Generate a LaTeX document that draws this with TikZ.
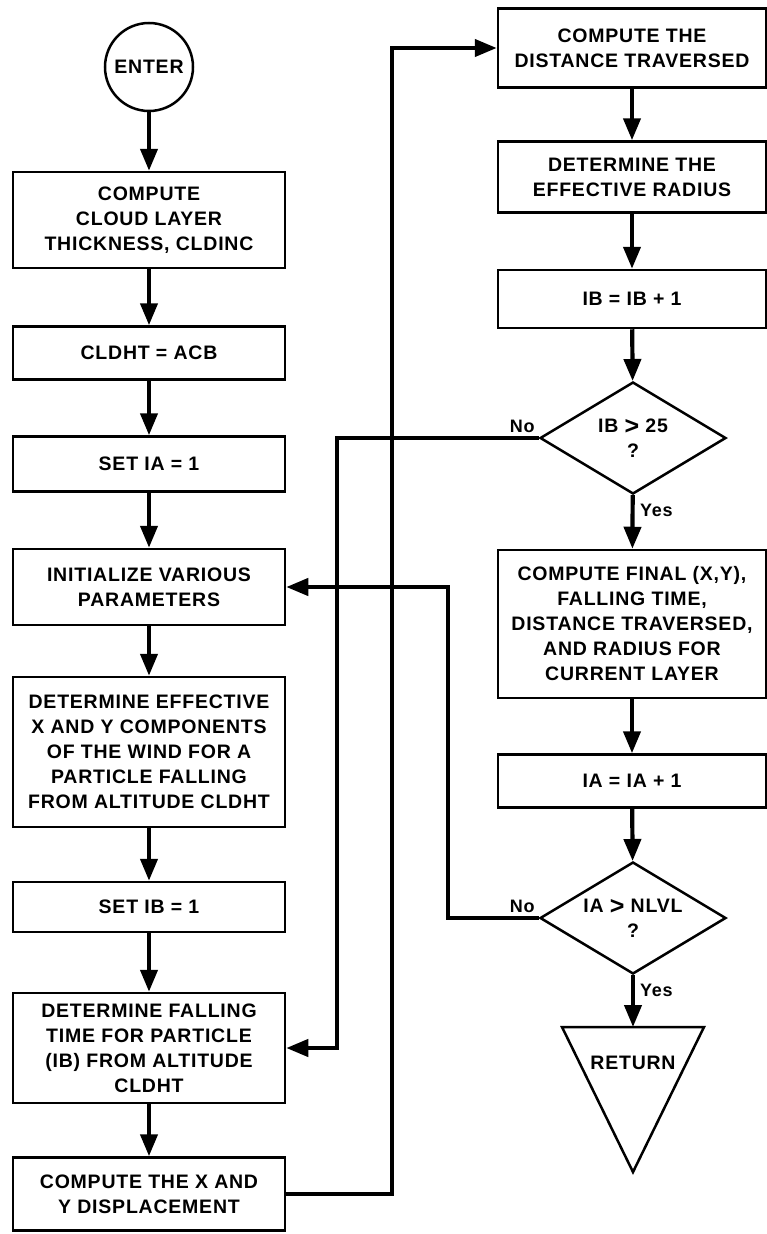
\documentclass[tikz,border=0pt]{standalone}
\usepackage{fontspec}
\setmainfont{Liberation Sans}[LetterSpace=4]
\usetikzlibrary{arrows.meta,shapes.geometric}
\newcommand{\bigGT}{\raisebox{-2.5pt}{\fontsize{25pt}{25pt}\selectfont >}}
\begin{document}
\begin{tikzpicture}[x=1pt,y=-1pt,
  every node/.style={font=\fontsize{19.5pt}{25pt}\selectfont\bfseries},
  proc/.style 2 args={draw, line width=2.5pt, rectangle, minimum width=#1,
    minimum height=#2, inner sep=0pt, align=center},
  decide/.style={draw, line width=2.5pt, diamond, aspect=1.66,
    minimum width=186pt, minimum height=112pt, inner sep=0pt, align=center},
  flow/.style={line width=4.2pt, line join=miter,
    -{Triangle[length=22pt,width=17pt]}},
  answer/.style={font=\fontsize{18pt}{20pt}\selectfont\bfseries, inner sep=1pt}
]
\useasboundingbox (0,0) rectangle (767,1234);
\fill[white] (0,0) rectangle (767,1234);

% left column
\node[circle, draw, line width=2.5pt, minimum size=88pt, inner sep=0pt] (enter) at (149,67) {ENTER};
\node[proc={272pt}{96pt}] (b1) at (149,220) {COMPUTE\\CLOUD LAYER\\THICKNESS, CLDINC};
\node[proc={272pt}{53pt}] (b2) at (149,353) {CLDHT = ACB};
\node[proc={272pt}{55pt}] (b3) at (149,464) {SET IA = 1};
\node[proc={272pt}{76pt}] (b4) at (149,587) {INITIALIZE VARIOUS\\PARAMETERS};
\node[proc={272pt}{150pt}] (b5) at (149,752) {DETERMINE EFFECTIVE\\X AND Y COMPONENTS\\OF THE WIND FOR A\\PARTICLE FALLING\\FROM ALTITUDE CLDHT};
\node[proc={272pt}{50pt}] (b6) at (149,907) {SET IB = 1};
\node[proc={272pt}{110pt}] (b7) at (149,1048) {DETERMINE FALLING\\TIME FOR PARTICLE\\(IB) FROM ALTITUDE\\CLDHT};
\node[proc={272pt}{73pt}] (b8) at (149,1194) {COMPUTE THE X AND\\Y DISPLACEMENT};

% right column
\node[proc={268pt}{79pt}] (r1) at (632,48) {COMPUTE THE\\DISTANCE TRAVERSED};
\node[proc={268pt}{71pt}] (r2) at (632,177) {DETERMINE THE\\EFFECTIVE RADIUS};
\node[proc={268pt}{58pt}] (r3) at (632,299) {IB = IB + 1};
\node[decide] (d1) at (633,438) {IB \bigGT{} 25\\?};
\node[proc={268pt}{148pt}] (r4) at (632,624) {COMPUTE FINAL (X,Y),\\FALLING TIME,\\DISTANCE TRAVERSED,\\AND RADIUS FOR\\CURRENT LAYER};
\node[proc={268pt}{53pt}] (r5) at (632,781) {IA = IA + 1};
\node[decide] (d2) at (633,918) {IA \bigGT{} NLVL\\?};

% return triangle
\coordinate (rtop) at (633,1027);
\draw[line width=2.5pt, line join=miter] (562,1027) -- (704,1027) -- (633,1172) -- cycle;
\node (ret) at (633,1063) {RETURN};

% loop columns
\coordinate (colA) at (337,0);
\coordinate (colB) at (392,0);
\coordinate (colC) at (448,0);

% main flow
\draw[flow] (enter) -- (b1);
\draw[flow] (b1) -- (b2);
\draw[flow] (b2) -- (b3);
\draw[flow] (b3) -- (b4);
\draw[flow] (b4) -- (b5);
\draw[flow] (b5) -- (b6);
\draw[flow] (b6) -- (b7);
\draw[flow] (b7) -- (b8);
\draw[flow] (r1) -- (r2);
\draw[flow] (r2) -- (r3);
\draw[flow] (r3) -- (d1);
\draw[flow] (d1) -- (r4);
\draw[flow] (r4) -- (r5);
\draw[flow] (r5) -- (d2);
\draw[flow] (d2.south) -- (rtop);

% loops back
\draw[flow] (b8.east) -- (b8.east -| colB) -- (r1.west -| colB) -- (r1.west);
\draw[flow] (d1.west) -- (d1.west -| colA) -- (b7.east -| colA) -- (b7.east);
\draw[flow] (d2.west) -- (d2.west -| colC) -- (b4.east -| colC) -- (b4.east);

% branch labels
\node[answer, anchor=south east] (no1) at ([xshift=-3pt,yshift=4pt]d1.west) {No};
\node[answer, anchor=north west] (yes1) at ([xshift=6pt,yshift=-8pt]d1.south) {Yes};
\node[answer, anchor=south east] (no2) at ([xshift=-3pt,yshift=4pt]d2.west) {No};
\node[answer, anchor=north west] (yes2) at ([xshift=6pt,yshift=-8pt]d2.south) {Yes};
\end{tikzpicture}
\end{document}
